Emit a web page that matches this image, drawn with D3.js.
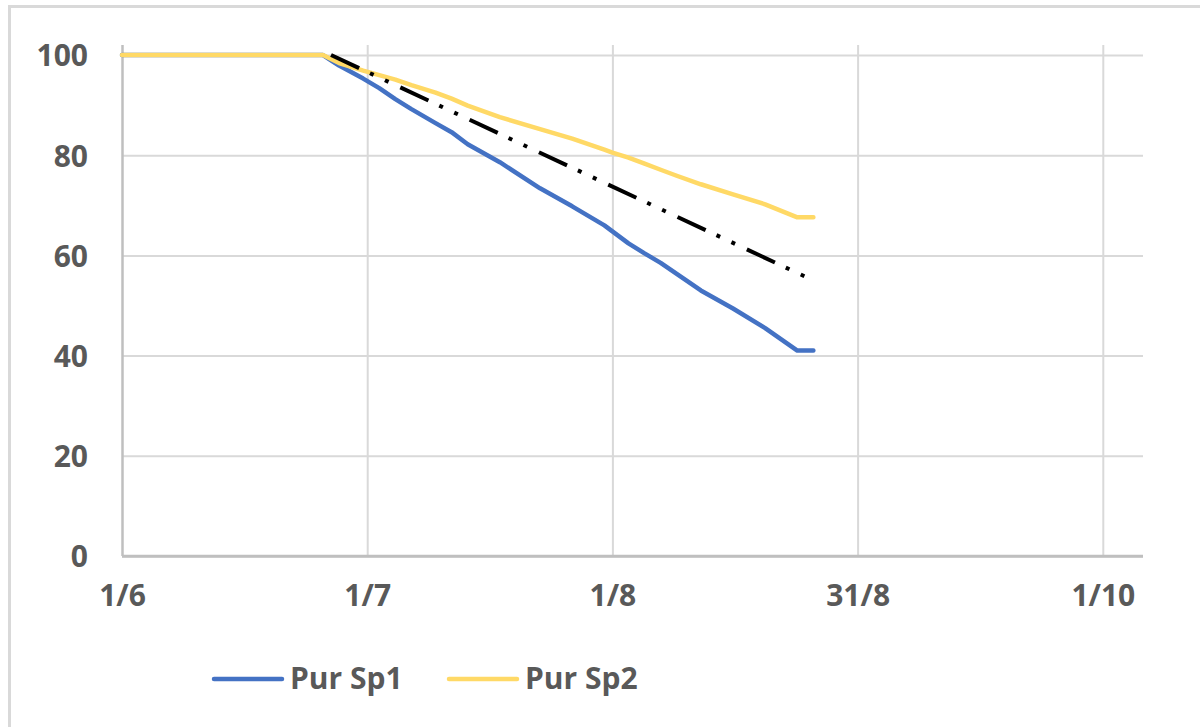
<!DOCTYPE html>
<html>
<head>
<meta charset="utf-8">
<script src="https://cdn.jsdelivr.net/npm/d3@7/dist/d3.min.js"></script>
<style>
  html, body { margin: 0; padding: 0; background: #fff; }
  svg { display: block; }
  text { font-family: "Open Sans", sans-serif; font-weight: 700; fill: #595959; }
</style>
</head>
<body>
<svg id="chart" width="1200" height="727"></svg>
<script>
// Observation dates (readings from 1 June to 26 August)
const dates = [
  "2021-06-01", "2021-06-26", "2021-06-28", "2021-07-01", "2021-07-03", "2021-07-05",
  "2021-07-07", "2021-07-10", "2021-07-12", "2021-07-14", "2021-07-18", "2021-07-23",
  "2021-07-27", "2021-07-31", "2021-08-01", "2021-08-03", "2021-08-05", "2021-08-07",
  "2021-08-09", "2021-08-12", "2021-08-16", "2021-08-20", "2021-08-24", "2021-08-26"
];
const purSp1 = [
  100, 100, 97.9, 95.3, 93.4, 91.2,
  89.2, 86.4, 84.6, 82.2, 78.6, 73.4,
  69.8, 66.0, 64.8, 62.4, 60.4, 58.5,
  56.3, 53.0, 49.4, 45.5, 41.0, 41.0
];
const purSp2 = [
  100, 100, 98.4, 96.9, 96.0, 95.1,
  94.0, 92.5, 91.3, 89.9, 87.6, 85.2,
  83.3, 81.1, 80.5, 79.5, 78.3, 77.1,
  75.9, 74.2, 72.2, 70.2, 67.6, 67.6
];
// Straight reference trend (start and end)
const trendDates = ["2021-06-27", "2021-08-26"];
const trendValues = [100, 55];

const seriesNames = ["Pur Sp1", "Pur Sp2"];
const seriesColors = ["#4472C4", "#FFD966"];

// Axis ticks
const xTickDates = ["2021-06-01T00:00", "2021-07-01T12:00", "2021-08-01T00:00", "2021-08-31T12:00", "2021-10-01T00:00"];
const xDomain = ["2021-06-01T00:00", "2021-10-06T00:00"];
const yTicks = [0, 20, 40, 60, 80, 100];
const yDomain = [0, 102];

const parse = d3.isoParse;
const svg = d3.select("#chart");

// outer chart frame
svg.append("rect")
  .attr("x", 9.5).attr("y", 6.5)
  .attr("width", 1200).attr("height", 740)
  .attr("fill", "#fff")
  .attr("stroke", "#d9d9d9").attr("stroke-width", 3);

const plot = { left: 122, right: 1143, top: 45, bottom: 556 };

const x = d3.scaleTime()
  .domain(xDomain.map(parse))
  .range([plot.left, plot.right]);
const y = d3.scaleLinear()
  .domain(yDomain)
  .range([plot.bottom, plot.top]);

const fmt = d3.timeFormat("%-d/%-m");

// horizontal gridlines
const yAxis = d3.axisLeft(y)
  .tickValues(yTicks)
  .tickSize(-(plot.right - plot.left))
  .tickPadding(34)
  .tickFormat(d3.format("d"));
const gy = svg.append("g")
  .attr("transform", `translate(${plot.left},0)`)
  .call(yAxis);
gy.select(".domain").remove();
gy.selectAll(".tick line")
  .attr("stroke", d => d === 0 ? "#bfbfbf" : "#d9d9d9")
  .attr("stroke-width", d => d === 0 ? 2.5 : 2);
gy.selectAll(".tick text")
  .attr("font-size", 30)
  .attr("dy", "0.36em")
  .attr("fill", "#595959");

// vertical gridlines
const xAxis = d3.axisBottom(x)
  .tickValues(xTickDates.map(parse))
  .tickSize(-(plot.bottom - plot.top))
  .tickPadding(34)
  .tickFormat(fmt);
const gx = svg.append("g")
  .attr("transform", `translate(0,${plot.bottom})`)
  .call(xAxis);
gx.select(".domain").remove();
gx.selectAll(".tick line")
  .attr("stroke", (d, i) => i === 0 ? "#bfbfbf" : "#d9d9d9")
  .attr("stroke-width", (d, i) => i === 0 ? 2.5 : 2);
gx.selectAll(".tick text")
  .attr("font-size", 30)
  .attr("dy", "0.52em")
  .attr("fill", "#595959");

// x baseline drawn above the vertical gridlines
svg.append("line")
  .attr("x1", plot.left).attr("x2", plot.right)
  .attr("y1", y(0)).attr("y2", y(0))
  .attr("stroke", "#bfbfbf").attr("stroke-width", 2.5);

const line = d3.line()
  .x(d => x(d[0]))
  .y(d => y(d[1]));

const series = [purSp1, purSp2].map((vals, i) => ({
  name: seriesNames[i],
  color: seriesColors[i],
  points: dates.map((d, j) => [parse(d), vals[j]])
}));

svg.append("g").selectAll("path")
  .data(series)
  .join("path")
  .attr("d", s => line(s.points))
  .attr("fill", "none")
  .attr("stroke", s => s.color)
  .attr("stroke-width", 4.5)
  .attr("stroke-linejoin", "round")
  .attr("stroke-linecap", "round");

// dash-dot-dot trend line
svg.append("path")
  .attr("d", line(trendDates.map((d, i) => [parse(d), trendValues[i]])))
  .attr("fill", "none")
  .attr("stroke", "#000")
  .attr("stroke-width", 4)
  .attr("stroke-dasharray", "31,12,4,12.5,4,13");

// legend
const legend = svg.append("g").selectAll("g")
  .data(series)
  .join("g")
  .attr("transform", (d, i) => `translate(${[214, 449][i]},679)`);
legend.append("line")
  .attr("x1", 0).attr("x2", 68)
  .attr("stroke", d => d.color)
  .attr("stroke-width", 4.5)
  .attr("stroke-linecap", "round");
legend.append("text")
  .attr("x", 76).attr("y", 10)
  .attr("font-size", 30)
  .text(d => d.name);
</script>
</body>
</html>
